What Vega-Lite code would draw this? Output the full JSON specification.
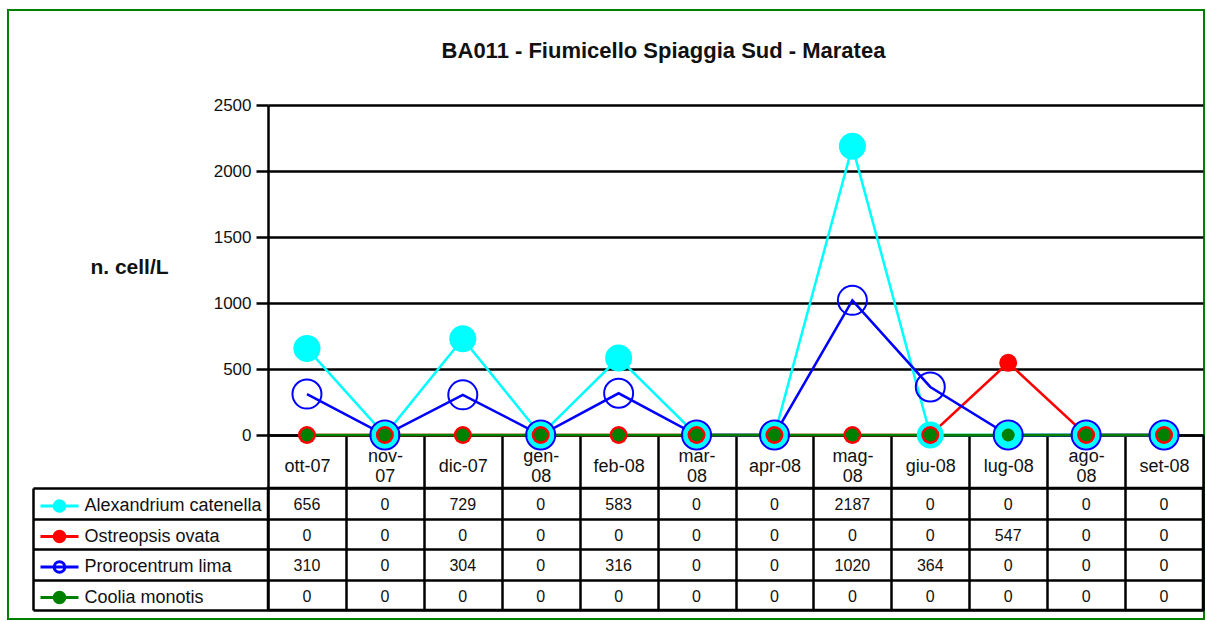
{
  "$schema": "https://vega.github.io/schema/vega-lite/v6.json",
  "background": "white",
  "padding": {"left": 8, "top": 10, "right": 0, "bottom": 0},
  "autosize": {"type": "pad"},
  "config": {"font": "Liberation Sans", "view": {"stroke": null}},
  "datasets": {
    "counts": [
      {"month": "ott-07", "species": "Alexandrium catenella", "value": 656},
      {"month": "nov-07", "species": "Alexandrium catenella", "value": 0},
      {"month": "dic-07", "species": "Alexandrium catenella", "value": 729},
      {"month": "gen-08", "species": "Alexandrium catenella", "value": 0},
      {"month": "feb-08", "species": "Alexandrium catenella", "value": 583},
      {"month": "mar-08", "species": "Alexandrium catenella", "value": 0},
      {"month": "apr-08", "species": "Alexandrium catenella", "value": 0},
      {"month": "mag-08", "species": "Alexandrium catenella", "value": 2187},
      {"month": "giu-08", "species": "Alexandrium catenella", "value": 0},
      {"month": "lug-08", "species": "Alexandrium catenella", "value": 0},
      {"month": "ago-08", "species": "Alexandrium catenella", "value": 0},
      {"month": "set-08", "species": "Alexandrium catenella", "value": 0},
      {"month": "ott-07", "species": "Ostreopsis ovata", "value": 0},
      {"month": "nov-07", "species": "Ostreopsis ovata", "value": 0},
      {"month": "dic-07", "species": "Ostreopsis ovata", "value": 0},
      {"month": "gen-08", "species": "Ostreopsis ovata", "value": 0},
      {"month": "feb-08", "species": "Ostreopsis ovata", "value": 0},
      {"month": "mar-08", "species": "Ostreopsis ovata", "value": 0},
      {"month": "apr-08", "species": "Ostreopsis ovata", "value": 0},
      {"month": "mag-08", "species": "Ostreopsis ovata", "value": 0},
      {"month": "giu-08", "species": "Ostreopsis ovata", "value": 0},
      {"month": "lug-08", "species": "Ostreopsis ovata", "value": 547},
      {"month": "ago-08", "species": "Ostreopsis ovata", "value": 0},
      {"month": "set-08", "species": "Ostreopsis ovata", "value": 0},
      {"month": "ott-07", "species": "Prorocentrum lima", "value": 310},
      {"month": "nov-07", "species": "Prorocentrum lima", "value": 0},
      {"month": "dic-07", "species": "Prorocentrum lima", "value": 304},
      {"month": "gen-08", "species": "Prorocentrum lima", "value": 0},
      {"month": "feb-08", "species": "Prorocentrum lima", "value": 316},
      {"month": "mar-08", "species": "Prorocentrum lima", "value": 0},
      {"month": "apr-08", "species": "Prorocentrum lima", "value": 0},
      {"month": "mag-08", "species": "Prorocentrum lima", "value": 1020},
      {"month": "giu-08", "species": "Prorocentrum lima", "value": 364},
      {"month": "lug-08", "species": "Prorocentrum lima", "value": 0},
      {"month": "ago-08", "species": "Prorocentrum lima", "value": 0},
      {"month": "set-08", "species": "Prorocentrum lima", "value": 0},
      {"month": "ott-07", "species": "Coolia monotis", "value": 0},
      {"month": "nov-07", "species": "Coolia monotis", "value": 0},
      {"month": "dic-07", "species": "Coolia monotis", "value": 0},
      {"month": "gen-08", "species": "Coolia monotis", "value": 0},
      {"month": "feb-08", "species": "Coolia monotis", "value": 0},
      {"month": "mar-08", "species": "Coolia monotis", "value": 0},
      {"month": "apr-08", "species": "Coolia monotis", "value": 0},
      {"month": "mag-08", "species": "Coolia monotis", "value": 0},
      {"month": "giu-08", "species": "Coolia monotis", "value": 0},
      {"month": "lug-08", "species": "Coolia monotis", "value": 0},
      {"month": "ago-08", "species": "Coolia monotis", "value": 0},
      {"month": "set-08", "species": "Coolia monotis", "value": 0}
    ]
  },
  "bounds": "flush",
  "spacing": 53,
  "resolve": {"scale": {"x": "independent", "y": "independent", "color": "independent"}, "legend": {"color": "independent"}},
  "vconcat": [
    {
      "width": 935,
      "height": 42,
      "data": {"values": [{"t": "BA011 - Fiumicello Spiaggia Sud - Maratea", "k": 1}]},
      "mark": {"type": "text", "fontSize": 22, "fontWeight": "bold", "dx": -72, "dy": 20},
      "encoding": {
        "text": {"field": "t"},
        "color": {
          "field": "k", "type": "quantitative",
          "scale": {"domain": [0, 1], "range": ["#111111", "#111111"]},
          "legend": {
            "type": "gradient", "orient": "none", "legendX": -260, "legendY": 0, "direction": "vertical",
            "title": null, "padding": 0, "gradientLength": 609, "gradientThickness": 1196,
            "gradientStrokeColor": "#008000", "gradientStrokeWidth": 2,
            "labelExpr": "''", "labelOffset": -1190, "labelOpacity": 0,
            "encode": {"gradient": {"update": {"fillOpacity": {"value": 0}}}}
          }
        }
      }
    },
    {
      "width": 935,
      "height": 330,
      "data": {"name": "counts"},
      "encoding": {
        "x": {
          "field": "month", "type": "nominal",
          "scale": {"type": "band", "domain": ["ott-07","nov-07","dic-07","gen-08","feb-08","mar-08","apr-08","mag-08","giu-08","lug-08","ago-08","set-08"], "paddingInner": 0, "paddingOuter": 0},
          "axis": {
            "orient": "bottom", "title": null, "grid": false, "tickBand": "extent",
            "tickSize": 53, "tickWidth": 2.5, "tickColor": "#000",
            "domainColor": "#000", "domainWidth": 2.5,
            "labelFontSize": 18, "labelColor": "#111", "labelAngle": 0,
            "labelPadding": {"condition": {"test": "indexof(['nov-07','gen-08','mar-08','mag-08','ago-08'], datum.label) >= 0", "value": -32}, "value": -22},
            "labelBaseline": "middle", "labelLineHeight": 20, "labelOverlap": false,
            "labelExpr": "indexof(['nov-07','gen-08','mar-08','mag-08','ago-08'], datum.label) >= 0 ? [slice(datum.label, 0, 4), slice(datum.label, 4)] : datum.label"
          }
        },
        "y": {
          "field": "value", "type": "quantitative",
          "scale": {"domain": [0, 2500], "nice": false},
          "axis": {
            "values": [0, 500, 1000, 1500, 2000, 2500], "format": "d",
            "title": "n. cell/L", "titleAngle": 0, "titleFontSize": 21, "titleFontWeight": "bold",
            "titleX": -139, "titleY": 162, "titleAlign": "center", "titleBaseline": "middle", "titleColor": "#111",
            "grid": true, "gridColor": "#000", "gridWidth": 2.5, "gridOpacity": 1,
            "tickSize": 12, "tickWidth": 2.5, "tickColor": "#000",
            "domainColor": "#000", "domainWidth": 2.5,
            "labelFontSize": 17, "labelColor": "#111", "labelPadding": 5
          }
        }
      },
      "layer": [
        {
          "mark": {"type": "line", "strokeWidth": 2.5},
          "encoding": {
            "order": {"value": null},
            "color": {
              "field": "species", "type": "nominal",
              "scale": {"domain": ["Alexandrium catenella", "Ostreopsis ovata", "Prorocentrum lima", "Coolia monotis"], "range": ["#00FFFF", "#FF0000", "#0000FF", "#008000"]},
              "legend": {
                "orient": "none", "legendX": -219.5, "legendY": 390, "title": null, "padding": 0,
                "symbolType": "M-2,0L2,0M0.56,0A0.56,0.56,0,1,1,-0.56,0A0.56,0.56,0,1,1,0.56,0Z",
                "symbolSize": 361, "symbolStrokeWidth": 3,
                "labelFontSize": 18, "labelColor": "#111", "labelOffset": 14, "labelLimit": 300, "rowPadding": 6.5,
                "encode": {
                  "symbols": {
                    "update": {
                      "fill": {"signal": "({'Alexandrium catenella': '#00FFFF', 'Ostreopsis ovata': '#FF0000', 'Prorocentrum lima': '#FFFFFF', 'Coolia monotis': '#008000'})[datum.value]"},
                      "stroke": {"signal": "({'Alexandrium catenella': '#00FFFF', 'Ostreopsis ovata': '#FF0000', 'Prorocentrum lima': '#0000FF', 'Coolia monotis': '#008000'})[datum.value]"},
                      "opacity": {"value": 1}
                    }
                  }
                }
              }
            }
          }
        },
        {
          "transform": [{"filter": "datum.species === 'Alexandrium catenella'"}],
          "mark": {"type": "point", "filled": true, "color": "#00FFFF", "size": 729, "opacity": 1}
        },
        {
          "transform": [{"filter": "datum.species === 'Ostreopsis ovata'"}],
          "mark": {"type": "point", "filled": true, "color": "#FF0000", "size": 324, "opacity": 1}
        },
        {
          "transform": [{"filter": "datum.species === 'Prorocentrum lima'"}],
          "mark": {"type": "point", "filled": false, "color": "#0000FF", "strokeWidth": 2, "size": 841, "opacity": 1}
        },
        {
          "transform": [{"filter": "datum.species === 'Coolia monotis'"}],
          "mark": {"type": "point", "filled": true, "color": "#008000", "size": 169, "opacity": 1}
        }
      ]
    },
    {
      "width": 935,
      "height": 122,
      "data": {"name": "counts"},
      "view": {"stroke": "#000", "strokeWidth": 2.5},
      "mark": {"type": "text", "fontSize": 16, "color": "#111", "dy": 2},
      "encoding": {
        "x": {
          "field": "month", "type": "nominal",
          "scale": {"type": "band", "domain": ["ott-07","nov-07","dic-07","gen-08","feb-08","mar-08","apr-08","mag-08","giu-08","lug-08","ago-08","set-08"], "paddingInner": 0, "paddingOuter": 0},
          "axis": {"orient": "bottom", "title": null, "labels": false, "ticks": false, "domain": false, "grid": true, "tickBand": "extent", "gridColor": "#000", "gridWidth": 2.5, "gridOpacity": 1}
        },
        "y": {
          "field": "species", "type": "nominal",
          "scale": {"domain": ["Alexandrium catenella", "Ostreopsis ovata", "Prorocentrum lima", "Coolia monotis"], "paddingInner": 0, "paddingOuter": 0},
          "axis": {"title": null, "labels": false, "offset": 235, "tickBand": "extent", "tickSize": -235, "tickWidth": 2.5, "tickColor": "#000", "domainColor": "#000", "domainWidth": 2.5, "grid": true, "gridColor": "#000", "gridWidth": 2.5, "gridOpacity": 1}
        },
        "text": {"field": "value", "type": "quantitative", "format": "d"}
      }
    }
  ]
}
